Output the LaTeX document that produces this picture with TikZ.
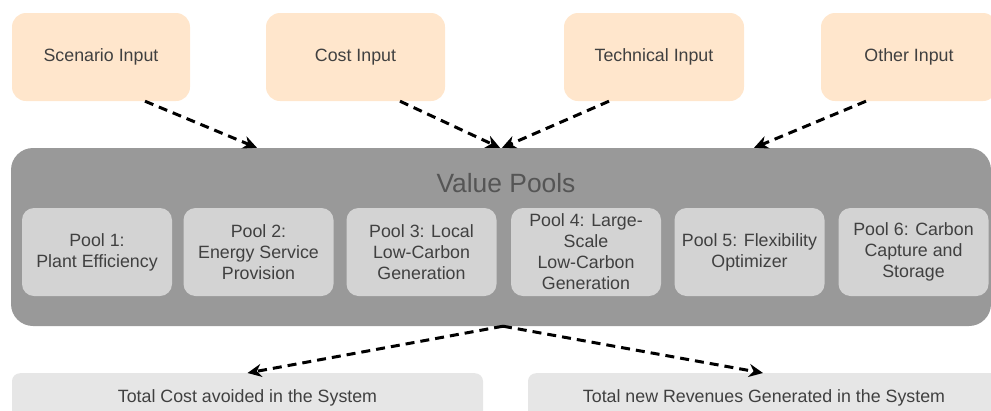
\documentclass[tikz,border=0pt]{standalone}
\usepackage{fontspec}
\setmainfont{Liberation Sans}
\usetikzlibrary{arrows.meta}

\definecolor{peach}{HTML}{FFE6CC}
\definecolor{poolbg}{HTML}{999999}
\definecolor{poolbox}{HTML}{D3D3D3}
\definecolor{resultbox}{HTML}{E6E6E6}
\definecolor{textgrey}{HTML}{404040}
\definecolor{titlegrey}{HTML}{555555}

\tikzset{
  inputbox/.style={fill=peach, draw=none, rounded corners=14pt, minimum height=88pt,
    text=textgrey, font=\fontsize{17.8}{21}\selectfont, inner sep=0pt},
  poolframe/.style={fill=poolbg, draw=none, rounded corners=22pt, minimum width=980pt,
    minimum height=178pt, inner sep=0pt},
  poolbox/.style={fill=poolbox, draw=none, rounded corners=12pt, minimum width=150pt,
    minimum height=88pt, text=textgrey, align=center, inner sep=0pt,
    font=\fontsize{17.8}{21}\selectfont},
  resultbox/.style={fill=resultbox, draw=none, rounded corners=8pt, anchor=north,
    inner xsep=0pt, inner ysep=0pt, text height=29pt, text depth=31pt,
    text=textgrey, font=\fontsize{17.8}{21}\selectfont},
  flow/.style={line width=3pt, dash pattern=on 9pt off 6pt, black,
    -{Stealth[length=14pt, width=13pt, inset=4.5pt]}},
}

\begin{document}
\begin{tikzpicture}[x=1pt, y=-1pt]
  \useasboundingbox (0,0) rectangle (991,410);
  \clip (0,0) rectangle (991,410);

  % input sources
  \node[inputbox, minimum width=178pt] (scen)  at (101,57)   {Scenario Input};
  \node[inputbox, minimum width=179pt] (cost)  at (355.5,57) {Cost Input};
  \node[inputbox, minimum width=180pt] (tech)  at (654,57)   {Technical Input};
  \node[inputbox, minimum width=176pt] (other) at (909,57)   {Other Input};

  % value pool container
  \node[poolframe] (pools) at (501,237) {};
  \node[text=titlegrey, anchor=base, font=\fontsize{26.4}{30}\selectfont, inner sep=0pt]
    (title) at (506,192) {Value Pools};

  \node[poolbox] (p1) at (97,252)    {Pool 1:\\Plant Efficiency};
  \node[poolbox] (p2) at (258.5,252) {Pool 2:\\Energy Service\\Provision};
  \node[poolbox] (p3) at (421.5,252) {Pool 3: Local\\Low-Carbon\\Generation};
  \node[poolbox] (p4) at (586,252)   {Pool 4: Large-\\Scale\\Low-Carbon\\Generation};
  \node[poolbox] (p5) at (749.5,252) {Pool 5: Flexibility\\Optimizer};
  \node[poolbox] (p6) at (913.5,252) {Pool 6: Carbon\\Capture and\\Storage};

  % results
  \node[resultbox, minimum width=471pt] (cost avoided) at (247.5,373) {Total Cost avoided in the System};
  \node[resultbox, minimum width=472pt] (revenues)     at (764,373)   {Total new Revenues Generated in the System};

  % inputs feeding the pools
  \draw[flow] ([xshift=44pt]scen.south)  -- ([xshift=-244pt]pools.north);
  \draw[flow] ([xshift=44.5pt]cost.south) -- ([xshift=-1pt]pools.north);
  \draw[flow] ([xshift=-45pt]tech.south)  -- ([xshift=1pt]pools.north);
  \draw[flow] ([xshift=-43pt]other.south) -- ([xshift=253pt]pools.north);

  % pools feeding the results
  \draw[flow] ([xshift=2pt]pools.south) -- (cost avoided.north);
  \draw[flow] ([xshift=2pt]pools.south) -- ([xshift=-1pt]revenues.north);
\end{tikzpicture}
\end{document}
